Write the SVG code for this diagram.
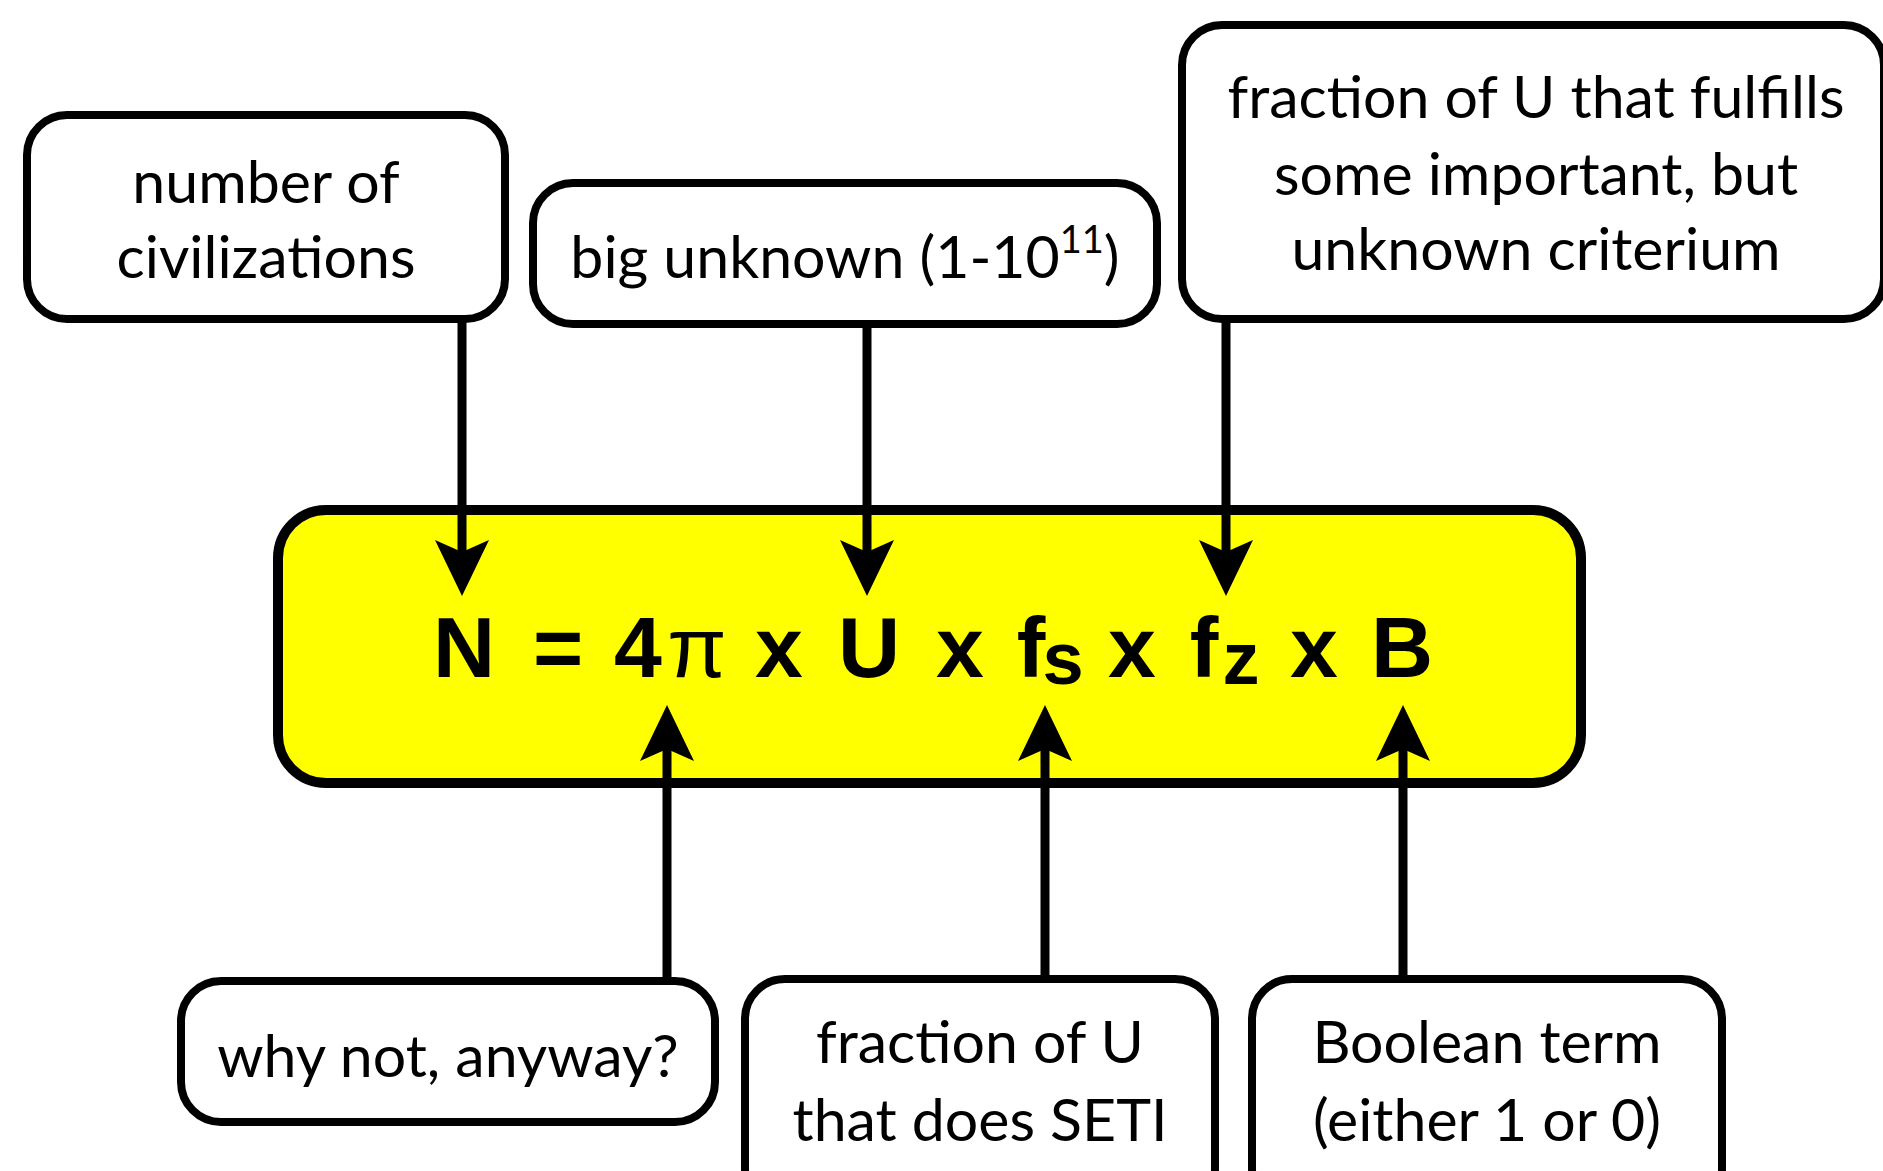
<svg xmlns="http://www.w3.org/2000/svg" width="1883" height="1171" viewBox="0 0 1883 1171">
<defs>
<style>
.box{fill:#fff;stroke:#000;stroke-width:8}
.main{fill:#ffff00;stroke:#000;stroke-width:10}
.lbl{font-family:Lato,"Liberation Sans",sans-serif;font-size:59px;fill:#000;text-anchor:middle}
.eq{font-family:"Liberation Sans",Arial,sans-serif;font-weight:bold;font-size:86px;fill:#000;text-anchor:middle}
.conn{stroke:#000;stroke-width:9;fill:none;marker-end:url(#ah)}
</style>
<marker id="ah" markerUnits="userSpaceOnUse" markerWidth="80" markerHeight="80" viewBox="-20 -40 80 80" refX="0" refY="0" orient="auto" overflow="visible">
<path d="M44,0 L-12,-27 L0,0 L-12,27 Z" fill="#000"/>
</marker>
</defs>
<rect width="1883" height="1171" fill="#fff"/>
<g id="n-number">
<rect class="box" x="27" y="115" width="478" height="204" rx="40"/>
<text class="lbl" x="266" y="203">number of</text>
<text class="lbl" x="266" y="278">civilizations</text>
</g>
<g id="n-big">
<rect class="box" x="533" y="183" width="624" height="141" rx="40"/>
<text class="lbl" x="845" y="278">big unknown (1-10<tspan font-size="38" dy="-25">11</tspan><tspan dy="25">)</tspan></text>
</g>
<g id="n-fraction-fulfills">
<rect class="box" x="1182" y="25" width="702" height="294" rx="40"/>
<text class="lbl" x="1536" y="118">fraction of U that fulfills</text>
<text class="lbl" x="1536" y="195">some important, but</text>
<text class="lbl" x="1536" y="270">unknown criterium</text>
</g>
<g id="n-equation">
<rect class="main" x="278" y="510" width="1303" height="273" rx="48"/>
<text class="eq" y="677"><tspan x="464">N</tspan><tspan x="558">=</tspan><tspan x="638">4</tspan><tspan x="697" font-weight="normal">π</tspan><tspan x="779">x</tspan><tspan x="869">U</tspan><tspan x="960">x</tspan><tspan x="1031">f</tspan><tspan x="1063" y="684" font-size="74">s</tspan><tspan x="1132" y="677">x</tspan><tspan x="1204">f</tspan><tspan x="1241" y="684" font-size="74">z</tspan><tspan x="1314" y="677">x</tspan><tspan x="1402">B</tspan></text>
</g>
<g id="n-why">
<rect class="box" x="181" y="981" width="534" height="141" rx="40"/>
<text class="lbl" x="448" y="1077">why not, anyway?</text>
</g>
<g id="n-seti">
<rect class="box" x="745" y="979" width="470" height="230" rx="40"/>
<text class="lbl" x="980" y="1063">fraction of U</text>
<text class="lbl" x="980" y="1141">that does SETI</text>
</g>
<g id="n-boolean">
<rect class="box" x="1252" y="979" width="470" height="230" rx="40"/>
<text class="lbl" x="1487" y="1063">Boolean term</text>
<text class="lbl" x="1487" y="1141">(either 1 or 0)</text>
</g>
<g id="connectors">
<line class="conn" x1="462" y1="319" x2="462" y2="552"/>
<line class="conn" x1="867" y1="324" x2="867" y2="552"/>
<line class="conn" x1="1226" y1="319" x2="1226" y2="552"/>
<line class="conn" x1="667" y1="979" x2="667" y2="749"/>
<line class="conn" x1="1045" y1="979" x2="1045" y2="749"/>
<line class="conn" x1="1403" y1="979" x2="1403" y2="749"/>
</g>
</svg>
